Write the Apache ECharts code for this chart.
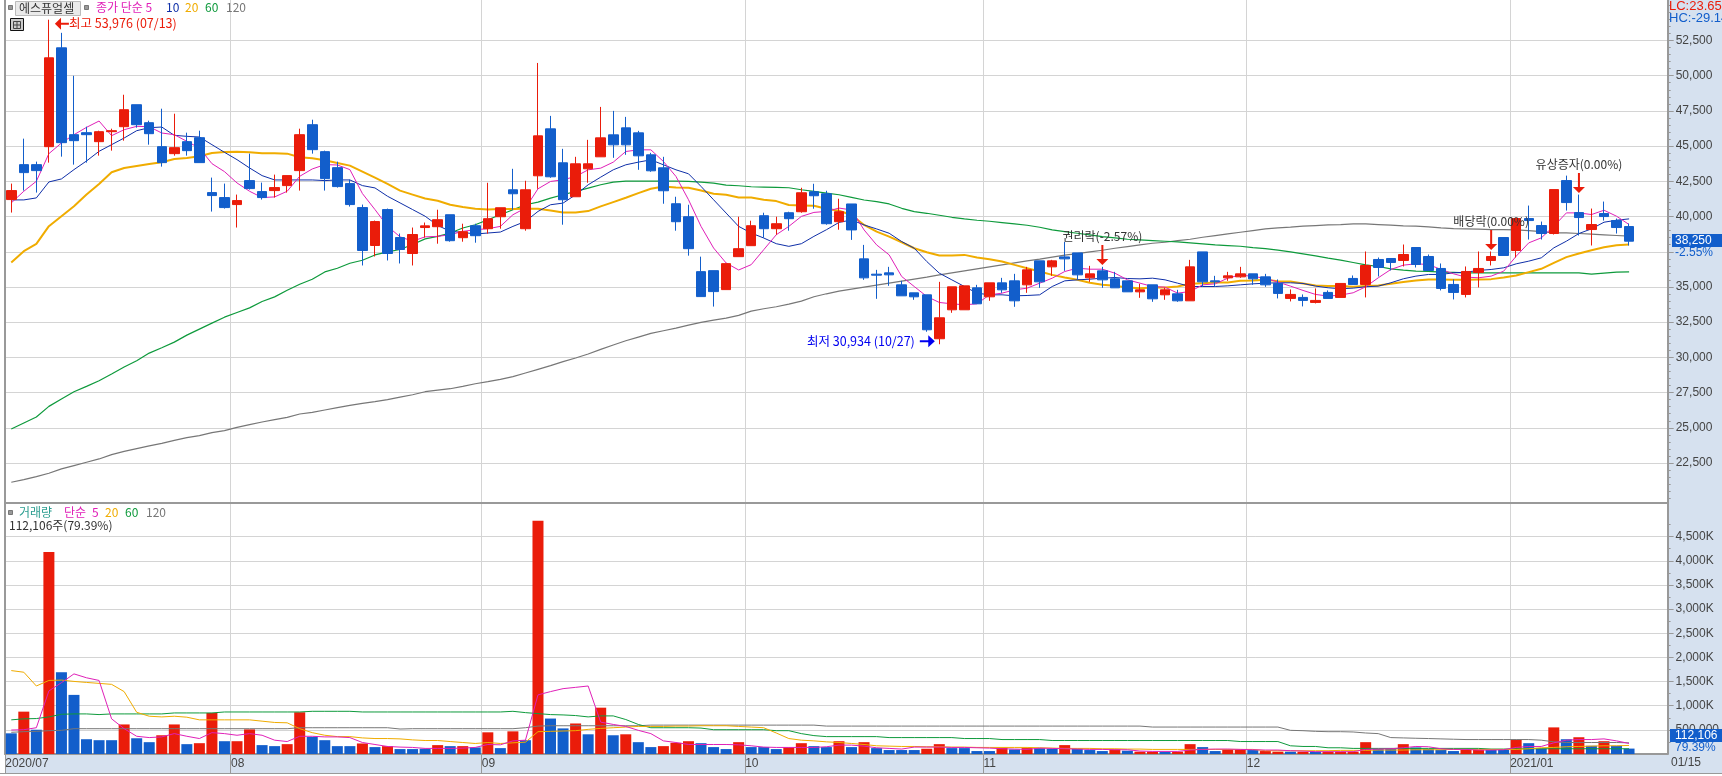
<!DOCTYPE html>
<html><head><meta charset="utf-8">
<style>html,body{margin:0;padding:0;background:#fff}#c{width:1722px;height:776px}</style>
<script src="https://cdn.jsdelivr.net/npm/echarts@6/dist/echarts.min.js"></script></head>
<body><div id="c"></div>
<script>
const monthLabels = {0:'2020/07',18:'08',38:'09',59:'10',78:'11',99:'12',120:'2021/01'};
const opens = [41205,43686,43686,44962,51980,45813,45955,45317,46026,46380,
47940,46664,44962,44466,45317,45600,41701,41347,40851,42552,
41772,41843,42197,43261,46522,44608,43473,42339,40638,37944,
40496,38511,37377,39220,39279,40129,38499,39349,39137,39987,
41901,39137,42894,46226,43816,41405,43390,44241,45800,46297,
45942,44383,43461,40909,39987,36089,36159,34812,37152,37932,
40058,39137,40271,40342,41760,41618,39633,40894,36995,35908,
36002,35152,34584,34443,31323,33379,33379,34939,34301,35293,
35435,35152,36853,36428,37136,37420,35648,36144,35577,35435,
34655,35152,34443,34514,34017,37491,35435,35648,35719,35931,
35719,35250,34187,34258,33903,34612,34258,35605,35179,36952,
37022,36881,37802,37164,36314,35179,34470,36030,36881,38511,
37590,39858,39362,38795,42552,40283,39078,40213,39716,39291];
const closes = [41843,43119,43261,51271,45246,45388,45813,46026,46096,47585,
46522,45884,43828,44891,44679,43828,41489,40638,41134,41985,
41347,42056,42906,45813,44749,42694,42127,40851,37590,39645,
37377,37660,38724,39338,39775,38286,38924,38641,39846,40625,
41618,41901,45730,42823,41193,43745,43745,45588,45092,45092,
44312,43248,41831,39633,37719,34316,34671,36656,37719,39349,
39137,39491,39846,41689,41476,39491,40342,39050,35648,35837,
35860,34372,34301,31961,32812,35010,35081,33805,35293,34797,
34017,36215,35364,36853,36995,35860,35931,35506,34939,34655,
34797,34159,34797,34017,36428,35364,35364,35790,35931,35577,
35152,34541,34470,34045,34045,34187,35250,35179,36526,36384,
36739,37306,36597,36172,34896,34612,36101,36314,37164,37235,
39858,39716,38795,41914,40992,39929,39433,40000,39220,38250];
const lows = [40283,41843,41701,43828,44253,43686,43828,44324,44679,45388,
46309,45104,43544,44324,44324,43828,40354,40567,39220,41914,
41205,41347,41701,41843,44466,41843,42056,40709,36526,37164,
36881,36668,36526,38511,38073,38215,38215,38144,38782,39137,
40484,38995,41972,42752,39420,41405,42398,44241,44170,44383,
43319,43178,40909,38995,37223,34316,33607,34812,37152,37932,
38499,38711,38995,40271,40555,39420,39066,38342,35506,34159,
35081,34372,34088,31820,30934,33167,33379,33805,34017,34584,
33592,34584,34939,35790,36144,35506,35364,34939,34939,34655,
34230,33946,34088,33946,34017,35010,35010,35435,35648,35152,
35010,34187,33974,33620,33832,34187,34258,35179,34258,35746,
36172,36455,36384,36172,34754,34116,34258,34967,36526,37235,
37093,38369,38369,38724,40425,38653,37944,39716,38795,37944];
const highs = [42339,45530,43899,53976,53044,49995,46380,46096,46238,48648,
47940,46805,47656,47302,45955,46096,42765,42339,41559,44466,
42410,42977,42906,46238,46876,44679,43899,42623,40851,39716,
40567,38795,39220,39575,40484,40129,39491,39491,42398,40625,
43390,42540,50905,47147,44808,44241,45446,47785,47502,47076,
46084,44524,44241,41405,40838,37152,36159,36656,39987,39704,
40271,39987,40342,42043,42327,41831,41263,40894,37987,36215,
36428,35435,34584,34443,35364,35010,35081,35152,35293,35648,
35931,36428,36853,36924,38200,37420,36498,36428,36073,35435,
35222,35152,34939,34797,36924,37491,35790,36073,36428,35931,
35931,35534,34825,34470,34896,34754,35250,35817,37519,37093,
37022,38015,37802,37306,36668,35534,36455,37519,37519,38511,
39858,40780,39645,41914,42906,41559,40567,41063,39858,39504];
const ma5 = [40969,41796,42505,44466,45222,45813,46333,46782,45742,46167,46404,46380,45931,45813,45340,44868,43757,43190,42386,41796,41347,41394,41796,42859,43379,43686,43662,43332,41630,40496,39315,38559,38252,38559,
38593,38711,38948,39066,39137,39302,40129,40602,41972,42492,42610,42847,43319,43437,43863,44619,44737,44737,43910,42847,41193,39302,37766,36702,36206,36584,37648,38711,39302,40011,40294,40365,40602,40468,
39051,37987,37278,35742,35033,34325,33899,33805,33734,33805,34443,34561,34797,34915,35270,35624,36097,36333,36262,36262,35979,35506,35270,35033,34986,34561,34679,35152,35222,35624,35860,35742,35624,
35345,35061,34754,34470,34352,34423,34588,35014,35652,36242,36550,36644,36597,36242,35935,35699,35652,35770,36124,37188,38133,38487,39315,40260,40260,40142,40449,40023,39433];
const ma10 = [41181,41181,41323,42457,42670,43332,43946,44631,45104,45577,46096,46309,46356,45766,45695,45647,45104,44560,44040,43450,42906,42599,42599,42599,42599,42552,42599,42599,42197,42032,41442,40969,40496,40023,
39373,38948,38877,38759,38830,38900,39302,39656,40365,40838,40956,41547,42256,42799,43319,43674,43863,44028,43674,43319,43036,42138,41193,40247,39302,38830,38475,38073,37884,38073,38593,39066,39585,
39759,39405,39121,38814,38224,37751,36806,35979,35506,35033,34561,34443,34443,34372,34395,34443,35033,35435,35506,35553,35624,35671,35600,35577,35624,35506,35270,35033,35033,35033,35081,35152,35222,35270,
35297,35297,35250,35061,34943,34872,34919,35014,35061,35297,35581,35770,35888,35888,36006,36054,36172,36242,36361,36644,36833,37070,37779,38251,38795,39126,39598,39740,39834];
const ma20 = [36739,37542,38062,39315,40023,40732,41559,42316,43143,43450,43592,43733,43851,44088,44159,44277,44513,44584,44608,44560,44489,44489,44466,44206,44135,43993,43804,43615,43190,42765,42316,41843,41559,41276,
41122,40838,40673,40555,40507,40531,40531,40555,40555,40437,40294,40294,40389,40720,41027,41334,41665,41972,42138,42067,42043,41854,41618,41547,41358,41358,41193,41098,40815,40791,40767,40555,40413,
40114,39405,38932,38578,38176,37751,37467,37231,37231,37278,37089,36971,36806,36569,36333,36097,35860,35671,35506,35293,35152,35081,34962,34915,34962,34962,35033,35222,35270,35317,35317,35435,35459,35506,
35415,35392,35250,35108,35061,35061,35014,35061,35108,35227,35345,35463,35534,35534,35510,35510,35534,35557,35675,35817,36054,36290,36715,37117,37377,37613,37826,37968,38015];
const ma60 = [24917,25342,25767,26523,27043,27563,27941,28343,28816,29312,29761,30304,30682,31084,31581,32006,32431,32856,33187,33518,33967,34298,34770,35196,35550,36070,36330,36685,36897,37275,37488,37660,38015,38416,
38593,38830,39184,39420,39775,40129,40484,40838,41027,41310,41547,41783,42020,42256,42445,42516,42516,42516,42516,42516,42492,42445,42374,42232,42185,42114,42090,42067,42043,41901,41783,41665,41547,
41366,41177,41059,40894,40586,40350,40232,40090,39948,39830,39736,39665,39570,39476,39381,39240,39051,38932,38814,38696,38578,38483,38389,38342,38294,38247,38200,38129,38058,37987,37940,37893,37798,37727,
37613,37495,37353,37211,37046,36904,36739,36574,36455,36290,36195,36124,36101,36054,36030,36006,36006,36006,36006,36006,36006,36006,36006,36006,36006,35912,35983,36054,36077];
const ma120 = [21136,21325,21538,21774,22081,22317,22554,22790,23097,23333,23523,23712,23901,24114,24302,24444,24657,24799,25035,25224,25413,25579,25744,25980,26098,26264,26429,26594,26736,26854,26996,27185,27350,27563,27681,27776,27941,28130,
28277,28443,28632,28892,29152,29412,29695,29955,30239,30570,30877,31184,31444,31704,31893,32082,32295,32484,32649,32791,32980,33287,33453,33594,33783,33996,34303,34516,34705,
34844,34986,35128,35270,35411,35553,35695,35860,36002,36144,36286,36428,36569,36711,36853,36971,37113,37255,37373,37491,37609,37751,37869,37987,38105,38176,38294,38389,38531,38649,38767,38885,39003,39121,
39196,39244,39315,39362,39409,39433,39480,39480,39433,39386,39338,39315,39267,39196,39149,39125,39102,39078,39078,39054,39007,38936,38842,38842,38795,38747,38700,38653,38606];
const volumes = [428,877,503,4180,1693,1224,306,286,286,612,
326,245,388,612,204,224,850,265,265,510,
184,163,204,864,354,286,163,163,218,143,
163,102,102,109,184,163,163,136,449,122,
469,286,4830,734,530,632,408,959,388,408,
245,143,163,231,265,224,143,102,245,143,
143,102,136,224,163,143,265,143,245,122,
82,82,82,109,204,122,122,61,61,129,
95,122,122,109,184,109,82,61,95,68,
48,48,48,48,204,143,61,95,95,82,
61,48,48,48,48,48,48,48,245,102,
109,204,136,102,88,61,88,88,88,88,
292,224,116,551,306,347,170,265,170,112];
const volUp = "brbrbbbbbrbbrrbrrbrrbbrrbbbbrbrbbbrbrbrbrbrbbrbrbrbbrrrbbbrbbbrrbbrbrbbbbrrbbbbrbrbbrbbbrbrrbrrbbrrbrrbrbrrrrbbrbbbbrrbbrbbrbrbrbb";
const vma5 = [496,503,544,1306,1476,1659,1578,1523,728,524,
367,340,354,422,367,320,442,422,388,422,
388,286,258,367,367,354,354,340,238,197,
156,143,136,116,116,116,122,136,197,190,
272,286,1224,1292,1353,1380,1408,660,612,571,
490,422,272,238,197,197,197,197,190,170,
143,136,136,136,136,150,184,184,163,129,
116,102,143,143,143,136,136,129,122,109,
102,95,122,116,109,102,95,95,88,88,
61,54,54,54,82,95,102,102,95,88,
82,82,68,61,48,48,48,48,95,102,
109,129,156,150,109,95,95,82,82,88,
136,156,156,231,286,299,299,313,272,218];
const vma20 = [1727,1693,1408,1523,1530,1503,1482,1462,1442,1292,
864,782,768,782,762,707,707,707,707,707,
680,653,646,524,442,388,360,360,333,320,
320,313,292,279,279,258,238,218,238,218,
231,245,462,469,476,483,510,530,544,558,
571,571,571,578,578,585,585,585,571,558,
544,435,320,286,272,252,238,218,197,170,
163,156,156,150,150,143,143,136,136,136,
136,136,129,122,116,116,116,109,109,102,
102,95,95,95,95,95,95,95,95,95,
68,68,68,68,68,68,75,75,75,82,
82,82,88,88,88,95,95,95,95,95,
95,109,129,136,150,156,163,170,170,177];
const vma60 = [707,728,734,768,823,830,830,816,830,830,
830,830,830,850,850,850,850,870,870,870,
870,870,870,870,884,884,884,884,870,870,
870,870,870,870,870,870,870,870,870,870,
884,857,836,816,809,796,768,789,789,714,
612,544,544,544,544,537,503,503,503,503,
503,483,483,422,381,360,360,360,360,360,
340,340,340,340,340,340,320,320,320,299,
299,299,299,279,279,279,279,279,279,279,
279,279,279,279,279,279,279,279,258,258,
258,258,170,156,156,129,129,116,116,116,
116,116,116,116,116,116,116,116,102,102,
109,109,109,109,109,109,109,109,109,109];
const vma120 = [449,462,469,483,490,524,524,524,524,524,
524,524,524,524,524,524,524,524,524,524,
524,524,524,544,544,544,544,544,544,544,
544,517,524,524,524,524,524,524,524,524,
524,544,578,585,585,585,585,585,585,585,
585,598,598,598,598,598,598,598,598,598,
598,598,598,598,598,578,578,578,578,578,
578,578,578,578,578,578,578,578,578,578,
578,578,578,578,578,578,578,578,578,578,
578,558,558,558,558,558,558,558,558,558,
558,558,490,483,469,462,462,456,435,422,
340,333,326,320,313,306,299,299,299,299,
299,299,286,252,238,238,238,238,238,231];
const priceTicks = [22500,25000,27500,30000,32500,35000,37500,40000,42500,45000,47500,50000,52500];
const priceLabelTicks = [22500,25000,27500,30000,32500,35000,40000,42500,45000,47500,50000,52500];
const priceMinor = [];
for (let v = 20000; v <= 55000; v += 500) priceMinor.push(v);
const volTicks = [500,1000,1500,2000,2500,3000,3500,4000,4500];
const volMinor = [250,750,1250,1750,2250,2750,3250,3750,4250,4750];

const RED='#EA1C0A', BLUE='#125ECB', MAG='#E020B8', NAVY='#0F2FA8', ORG='#F0AC00', GRN='#0E9A3C', GRY='#777777';
const GRIDC='#D4D4D4', AXC='#999999', PANEL='#D6E1EF', TXT='#444444';
const SANS='"Liberation Sans",Arial,sans-serif', CJK='"Noto Sans CJK KR","Liberation Sans",sans-serif';
const N=133;
const cats=[]; for(let i=0;i<N;i++) cats.push(monthLabels[i]||'');
const candle=opens.map((o,i)=>[o,closes[i],lows[i],highs[i]]);
const L=5, W=1668, PT=0, PH=503, VT=503, VH=251;
const PMIN=19662, PMAX=55375, VMIN=0, VMAX=5197;

const fmt=v=>Number(v).toLocaleString('en-US');
function xA(gi,labels){return {type:'category',gridIndex:gi,data:cats,boundaryGap:true,
  axisLine:{show:true,onZero:false,lineStyle:{color:AXC,width:2}},
  axisTick:{show:labels,length:19,interval:(i,v)=>v!=='',lineStyle:{color:AXC}},
  axisLabel:{show:labels,interval:(i,v)=>v!=='',align:'left',margin:4,padding:[0,0,0,-6],color:TXT,fontFamily:SANS,fontSize:12},
  splitLine:{show:true,interval:(i,v)=>v!=='',lineStyle:{color:GRIDC,width:1}}};}
function yBase(gi,min,max){return {type:'value',gridIndex:gi,min,max,scale:true,
  axisLine:{show:false},axisTick:{show:false},axisLabel:{show:false},splitLine:{show:false}};}
function yGrid(gi,min,max,ticks){const a=yBase(gi,min,max);a.position='left';
  a.axisLine={show:true,onZero:false,lineStyle:{color:AXC,width:2}};
  a.axisTick={show:false,customValues:ticks};a.axisLabel={show:false,customValues:ticks};
  a.splitLine={show:true,lineStyle:{color:GRIDC,width:1}};return a;}
function yLab(gi,min,max,ticks,labelTicks,formatter){const a=yBase(gi,min,max);a.position='right';a.offset=-5.3;a.z=4;
  a.axisLine={show:true,onZero:false,lineStyle:{color:AXC,width:2}};
  a.axisTick={show:true,customValues:ticks,length:6,lineStyle:{color:AXC}};
  a.axisLabel={show:true,customValues:labelTicks,margin:8,color:TXT,fontFamily:SANS,fontSize:12,formatter};return a;}
function yMin(gi,min,max,ticks){const a=yBase(gi,min,max);a.position='right';a.offset=-5.3;a.z=4;
  a.axisTick={show:true,customValues:ticks,length:3,lineStyle:{color:AXC}};
  a.axisLabel={show:false,customValues:ticks};return a;}
function line(name,data,color,width,xi,yi,z){return {name,type:'line',data,xAxisIndex:xi,yAxisIndex:yi,symbol:'none',smooth:false,z,silent:true,
  lineStyle:{color,width},itemStyle:{color},animation:false};}

const ARROW_DOWN='path://M5,0 L7,0 L7,14 L12,14 L6,20 L0,14 L5,14 Z';
const ARROW_LEFT='path://M0,6 L7,0 L7,5 L16,5 L16,7 L7,7 L7,12 Z';
const ARROW_RIGHT='path://M16,6 L9,0 L9,5 L0,5 L0,7 L9,7 L9,12 Z';
const annotate=(i,p,text)=>({coord:[i,p],symbol:ARROW_DOWN,symbolSize:[12,20],itemStyle:{color:RED},
  label:{show:true,position:'top',distance:3,formatter:text,color:'#333',fontFamily:CJK,fontSize:12}});
const markData=[annotate(125,42383,'유상증자(0.00%)'),annotate(118,38338,'배당락(0.00%)'),annotate(87,37270,'권리락(-2.57%)'),
 {coord:[3,53976],symbol:ARROW_LEFT,symbolSize:[14,12],symbolOffset:[13,4],itemStyle:{color:RED},
  label:{show:true,position:'right',distance:0,formatter:'최고 53,976 (07/13)',color:RED,fontFamily:CJK,fontSize:12.5}},
 {coord:[74,30934],symbol:ARROW_RIGHT,symbolSize:[15,12],symbolOffset:[-12,-3],itemStyle:{color:'#0000F0'},
  label:{show:true,position:'left',distance:5,formatter:'최저 30,934 (10/27)',color:'#0000F0',fontFamily:CJK,fontSize:12.5}}];

const txt=(x,y,text,fill,o={})=>({type:'text',z:6,x,y,silent:true,style:Object.assign({text,fill,font:(o.size||12)+'px '+(o.font||CJK),textVerticalAlign:'middle',textAlign:o.align||'left'})});
const rect=(x,y,w,h,fill,z,stroke)=>({type:'rect',z,silent:true,shape:{x,y,width:w,height:h},style:{fill,stroke:stroke||null,lineWidth:1}});
const graphics=[
 rect(1668,0,54,773,PANEL,1), rect(L,755,W,18,PANEL,0), rect(0,773,1722,1,AXC,2),
 rect(8.5,5.5,4,4,'#999',6,'#777'), rect(15.5,1.5,65,14,'#EAEAEA',6,'#BBB'), rect(84.5,5.5,4,4,'#999',6,'#777'),
 txt(19,8,'에스퓨얼셀','#333'),
 txt(96,7,'종가 단순 5',MAG), txt(166,7,'10',NAVY), txt(185,7,'20',ORG), txt(205,7,'60',GRN), txt(226,7,'120',GRY),
 rect(10.5,18.5,13,12,'#CCC',6,'#111'),
 {type:'rect',z:7,silent:true,shape:{x:13.5,y:21.5,width:7,height:7},style:{fill:'none',stroke:'#444',lineWidth:1}},
 {type:'line',z:7,silent:true,shape:{x1:17,y1:21,x2:17,y2:29},style:{stroke:'#444',lineWidth:1}},
 {type:'line',z:7,silent:true,shape:{x1:13,y1:25,x2:21,y2:25},style:{stroke:'#444',lineWidth:1}},
 txt(1669,6,'LC:23.65',RED,{size:13,font:SANS}), txt(1669,18,'HC:-29.14',BLUE,{size:13,font:SANS}),
 rect(1672,234,50,13,BLUE,6), txt(1675,241,'38,250','#fff',{font:SANS,size:12}), txt(1675,253,'-2.55%',BLUE,{font:SANS,size:12}),
 rect(1670,729,52,13,BLUE,6), txt(1675,736,'112,106','#fff',{font:SANS,size:12}), txt(1675,748,'79.39%',BLUE,{font:SANS,size:12}),
 txt(1671,763,'01/15',TXT,{font:SANS,size:12}),
 rect(8.5,510.5,4,4,'#999',6,'#777'),
 txt(19,512,'거래량','#2A9D8F'), txt(64,512,'단순',MAG), txt(92,512,'5',MAG), txt(105,512,'20',ORG), txt(125,512,'60',GRN), txt(146,512,'120',GRY),
 txt(9,525,'112,106주(79.39%)','#333')
];

const chart=echarts.init(document.getElementById('c'),null,{renderer:'canvas'});
chart.setOption({animation:false,backgroundColor:'#fff',
 grid:[{left:L,top:PT,width:W,height:PH},{left:L,top:VT,width:W,height:VH}],
 xAxis:[xA(0,false),xA(1,true)],
 yAxis:[yGrid(0,PMIN,PMAX,priceTicks),yLab(0,PMIN,PMAX,priceTicks,priceLabelTicks,fmt),yMin(0,PMIN,PMAX,priceMinor),
        yGrid(1,VMIN,VMAX,volTicks),yLab(1,VMIN,VMAX,volTicks,volTicks,v=>v===500?'500,000':fmt(v)+'K'),yMin(1,VMIN,VMAX,volMinor)],
 series:[
  line('MA120',ma120,GRY,1.2,0,0,1),line('MA60',ma60,GRN,1.2,0,0,1),line('MA20',ma20,ORG,2,0,0,1),line('MA10',ma10,NAVY,1,0,0,1),line('MA5',ma5,MAG,1,0,0,1),
  {name:'price',type:'candlestick',data:candle,xAxisIndex:0,yAxisIndex:0,barWidth:10,z:2,silent:true,
   itemStyle:{color:RED,color0:BLUE,borderColor:RED,borderColor0:BLUE,borderColorDoji:RED,borderWidth:1},
   markPoint:{silent:true,z:5,data:markData,animation:false}},
  {name:'volume',type:'bar',data:volumes,xAxisIndex:1,yAxisIndex:3,barWidth:11,z:2,silent:true,
   itemStyle:{color:p=>volUp[p.dataIndex]==='r'?RED:BLUE}},
  line('V120',vma120,GRY,1,1,3,3),line('V60',vma60,GRN,1,1,3,3),line('V20',vma20,ORG,1,1,3,3),line('V5',vma5,MAG,1,1,3,3)
 ],
 graphic:{elements:graphics}
});
</script></body></html>
